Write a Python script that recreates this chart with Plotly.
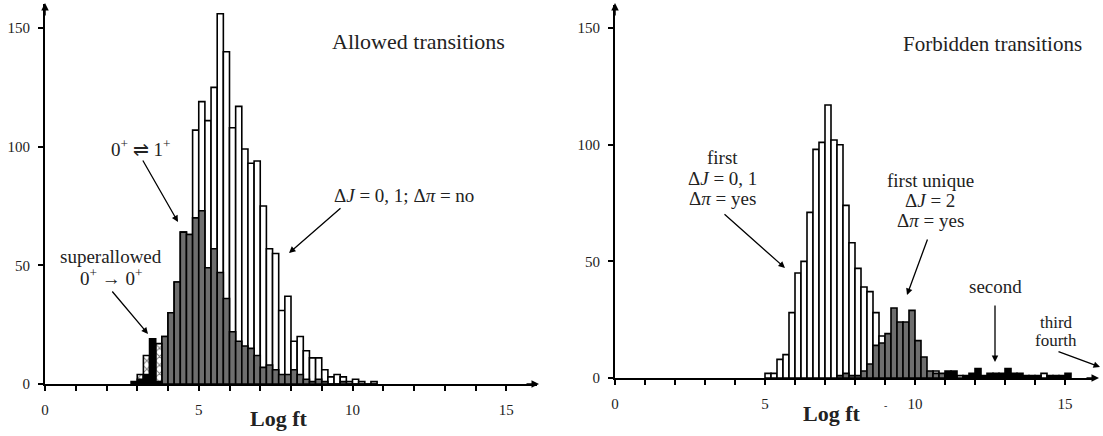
import plotly.graph_objects as go

W, H = 1103, 436

# ---- allowed transitions (left panel), bin width 0.2 in log ft ----
allowed_logft = [3.9, 4.1, 4.3, 4.5, 4.7, 4.9, 5.1, 5.3, 5.5, 5.7, 5.9, 6.1, 6.3, 6.5, 6.7,
                 6.9, 7.1, 7.3, 7.5, 7.7, 7.9, 8.1, 8.3, 8.5, 8.7, 8.9, 9.1, 9.3, 9.5, 9.7,
                 9.9, 10.1, 10.3, 10.5, 10.7]
allowed_all = [20, 30, 43, 64, 63, 107, 119, 111, 125, 156, 140, 108, 117, 99, 93,
               94, 75, 57, 55, 31, 37, 18, 20, 14, 11, 11, 6, 3, 4, 3,
               1, 2, 1, 0, 1]
allowed_gt = [20, 30, 43, 64, 63, 70, 73, 49, 57, 47, 36, 22, 18, 16, 15,
              12, 7, 8, 6, 4, 4, 6, 4, 2, 1, 2, 1, 0, 0, 1,
              0, 0, 0, 0, 0]

super_logft = [2.9, 3.1, 3.3, 3.5, 3.7]
super_hatched = [0, 4, 12, 0, 17]
super_black = [1, 2, 4, 19, 1]

# ---- forbidden transitions (right panel) ----
first_logft = [5.1, 5.3, 5.5, 5.7, 5.9, 6.1, 6.3, 6.5, 6.7, 6.9, 7.1, 7.3, 7.5, 7.7, 7.9,
               8.1, 8.3, 8.5, 8.7, 8.9, 10.7, 11.5, 14.3]
first_counts = [2, 2, 8, 10, 28, 45, 50, 71, 98, 101, 117, 102, 100, 74, 58,
                47, 39, 37, 28, 18, 3, 1, 2]

unique_logft = [7.5, 7.7, 7.9, 8.1, 8.3, 8.5, 8.7, 8.9, 9.1, 9.3, 9.5, 9.7, 9.9,
                10.1, 10.3, 10.5, 10.7, 10.9, 11.1]
unique_counts = [1, 2, 1, 1, 3, 6, 14, 15, 19, 30, 24, 24, 29, 16, 9, 3, 2, 2, 1]

higher_logft = [11.1, 11.3, 11.7, 11.9, 12.1, 12.3, 12.5, 12.7, 12.9, 13.1, 13.3, 13.5,
                13.7, 13.9, 14.1, 14.5, 14.7, 14.9, 15.1]
higher_counts = [3, 3, 1, 2, 4, 1, 2, 2, 2, 4, 2, 2, 1, 1, 1, 1, 1, 1, 2]

x_ticks = list(range(0, 16))
x_ticktext = [str(v) if v % 5 == 0 else "" for v in x_ticks]
y_ticks = [0, 50, 100, 150]

GRAY = "#6e6e6e"
TXT = "#222222"
FONT = "Liberation Serif"


def bar(x, y, color, xa, ya, pattern=None):
    return go.Bar(x=x, y=y, width=0.2, xaxis=xa, yaxis=ya,
                  marker=dict(color=color, line=dict(color="black", width=1.6),
                              pattern=pattern or {}),
                  showlegend=False, hoverinfo="x+y")


hatch = dict(shape="x", fgcolor="black", bgcolor="white", size=6, solidity=0.3)

fig = go.Figure()
fig.add_trace(bar(allowed_logft, allowed_all, "white", "x", "y"))
fig.add_trace(bar(allowed_logft, allowed_gt, GRAY, "x", "y"))
fig.add_trace(bar(super_logft, super_hatched, "white", "x", "y", hatch))
fig.add_trace(bar(super_logft, super_black, "black", "x", "y"))

fig.add_trace(bar(first_logft, first_counts, "white", "x2", "y2"))
fig.add_trace(bar(unique_logft, unique_counts, GRAY, "x2", "y2"))
fig.add_trace(bar(higher_logft, higher_counts, "black", "x2", "y2"))


def px(x):
    return x / W


def py(y):
    return 1 - y / H


axis_common = dict(showline=True, linecolor="black", linewidth=2, showgrid=False,
                   zeroline=False, ticks="outside", ticklen=5, tickwidth=2,
                   tickcolor="black", automargin=False,
                   tickfont=dict(family=FONT, size=15, color=TXT))

fig.update_layout(
    width=W, height=H,
    margin=dict(l=0, r=0, t=0, b=0),
    paper_bgcolor="white", plot_bgcolor="white",
    barmode="overlay",
    font=dict(family=FONT, color=TXT),
    xaxis=dict(domain=[px(45), px(537)], range=[0, 16], anchor="y",
               tickvals=x_ticks, ticktext=x_ticktext, ticklabelstandoff=6, **axis_common),
    yaxis=dict(domain=[py(384), py(4.3)], range=[0, 160], anchor="x",
               tickvals=y_ticks, ticklabelstandoff=5, **axis_common),
    xaxis2=dict(domain=[px(615), px(1095)], range=[0, 16], anchor="y2",
                tickvals=x_ticks, ticktext=x_ticktext, ticklabelstandoff=6, **axis_common),
    yaxis2=dict(domain=[py(378), py(4.7)], range=[0, 160], anchor="x2",
                tickvals=y_ticks, ticklabelstandoff=5, **axis_common),
)


def text(x, y, s, size=19):
    fig.add_annotation(x=px(x), y=py(y), xref="paper", yref="paper", text=s,
                       showarrow=False, xanchor="center", yanchor="middle",
                       font=dict(family=FONT, size=size, color=TXT))


def arrow(x, y, ax, ay, head=2, size=1.0, width=1.3):
    fig.add_annotation(x=px(x), y=py(y), xref="paper", yref="paper", text="",
                       showarrow=True, ax=ax, ay=ay, arrowhead=head, arrowsize=size,
                       arrowwidth=width, arrowcolor="black", standoff=0)


# axis arrowheads
arrow(45, 3, 0, 14, width=1.5)
arrow(615, 3, 0, 14, width=1.5)
arrow(539, 384, -14, 0, width=1.5)
arrow(1099, 378, -14, 0, width=1.5)

# left panel labels
text(418, 41, "Allowed transitions", size=22)
text(141, 148, "0<sup>+</sup> ⇌ 1<sup>+</sup>")
arrow(178, 222, -36, -63)
text(111, 256, "superallowed")
text(111, 277, "0<sup>+</sup> → 0<sup>+</sup>")
arrow(148, 334, -37, -44)
text(404, 195, "Δ<i>J</i> = 0, 1; Δ<i>π</i> = no")
arrow(289, 253, 53, -46)
text(279, 418, "<b>Log ft</b>", size=22)

# right panel labels
text(992, 44, "Forbidden transitions", size=21)
text(722, 158, "first")
text(722, 178, "Δ<i>J</i> = 0, 1")
text(722, 198, "Δ<i>π</i> = yes")
arrow(785, 268, -62, -55)
text(930, 180, "first unique")
text(930, 200, "Δ<i>J</i> = 2")
text(930, 220, "Δ<i>π</i> = yes")
arrow(907, 295, 21, -57)
text(995, 286, "second")
arrow(995, 362, 0, -58)
text(1056, 322, "third", size=17)
text(1056, 340, "fourth", size=17)
arrow(1100, 367, -43, -16)
text(832, 413, "<b>Log ft</b>", size=22)
text(885, 405, "-", size=10)

# the page body has a default 8px margin; drop it so the figure fills the window
fig.write_html("out.html", config={"displayModeBar": False},
               post_script="document.body.style.margin='0px';")
